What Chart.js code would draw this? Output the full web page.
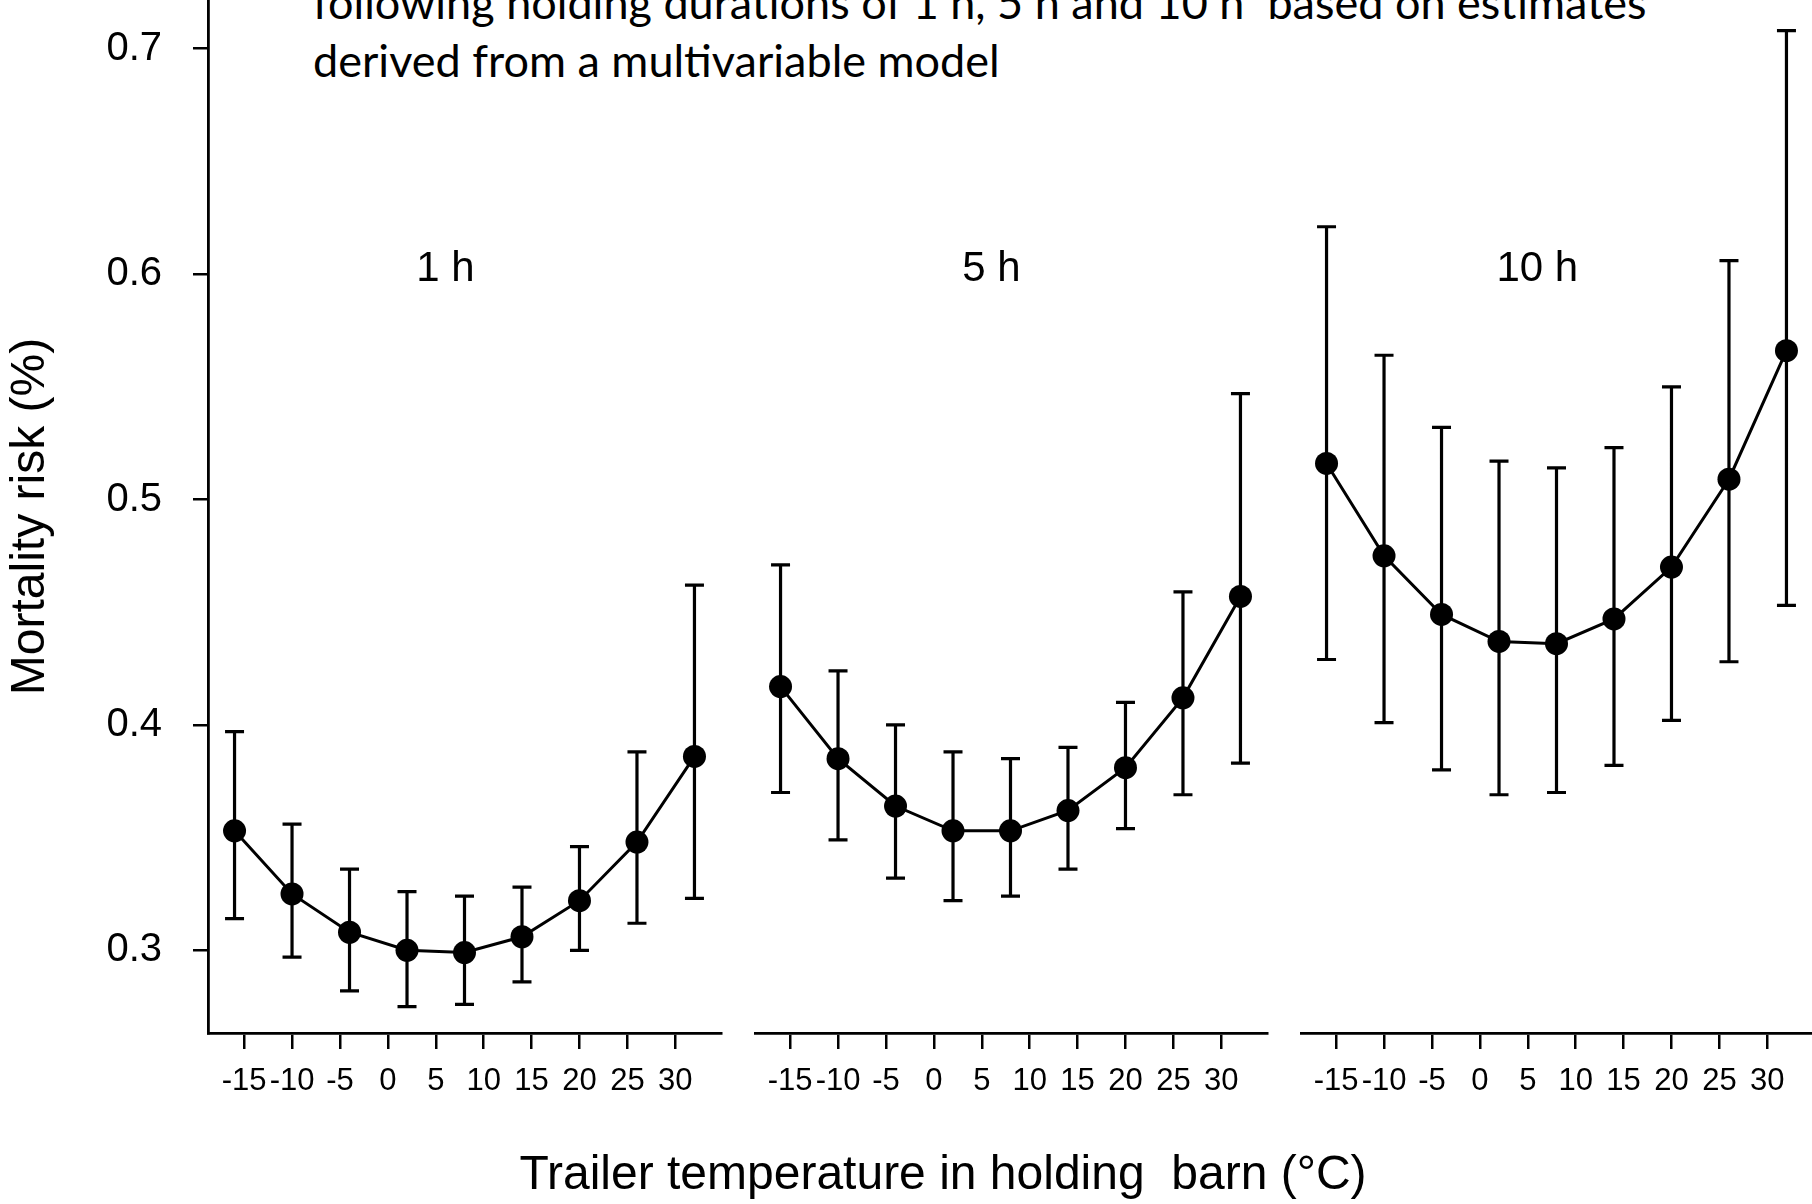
<!DOCTYPE html>
<html>
<head>
<meta charset="utf-8">
<script src="https://cdn.jsdelivr.net/npm/chart.js@4.4.1/dist/chart.umd.min.js"></script>
<style>
  html, body { margin: 0; padding: 0; background: #fff; overflow: hidden; }
  #wrap { position: relative; width: 1812px; height: 1204px; overflow: hidden; }
  canvas { position: absolute; top: 0; }
  .caption { position: absolute; left: 313px; top: -27px; font: 45px/58px Lato, sans-serif; color: #000; white-space: pre; }
  .xtitle { position: absolute; left: 943px; top: 1149px; transform: translateX(-50%); font: 48px/48px "Liberation Sans", Arial, sans-serif; color: #000; white-space: pre; }
</style>
</head>
<body>
<div id="wrap">
  <div class="caption">following holding durations of 1 h, 5 h and 10 h  based on estimates
derived from a multivariable model</div>
  <canvas id="p1" width="730" height="1204" style="left:0px"></canvas>
  <canvas id="p2" width="522" height="1204" style="left:754px"></canvas>
  <canvas id="p3" width="513" height="1204" style="left:1300px"></canvas>
  <div class="xtitle">Trailer temperature in holding  barn (°C)</div>
</div>
<script>
// temperatures (°C) at which the model was evaluated
const temps = [-16, -10, -4, 2, 8, 14, 20, 26, 32];
const xTicks = [-15, -10, -5, 0, 5, 10, 15, 20, 25, 30];
const yTicks = [0.3, 0.4, 0.5, 0.6, 0.7];
const panelLabels = ['1 h', '5 h', '10 h'];

// mortality risk (%) with lower / upper confidence limits
const est1h = [0.353, 0.325, 0.308, 0.300, 0.299, 0.306, 0.322, 0.348, 0.386];
const low1h = [0.314, 0.297, 0.282, 0.275, 0.276, 0.286, 0.300, 0.312, 0.323];
const up1h  = [0.397, 0.356, 0.336, 0.326, 0.324, 0.328, 0.346, 0.388, 0.462];

const est5h = [0.417, 0.385, 0.364, 0.353, 0.353, 0.362, 0.381, 0.412, 0.457];
const low5h = [0.370, 0.349, 0.332, 0.322, 0.324, 0.336, 0.354, 0.369, 0.383];
const up5h  = [0.471, 0.424, 0.400, 0.388, 0.385, 0.390, 0.410, 0.459, 0.547];

const est10h = [0.516, 0.475, 0.449, 0.437, 0.436, 0.447, 0.470, 0.509, 0.566];
const low10h = [0.429, 0.401, 0.380, 0.369, 0.370, 0.382, 0.402, 0.428, 0.453];
const up10h  = [0.621, 0.564, 0.532, 0.517, 0.514, 0.523, 0.550, 0.606, 0.708];

const FONT = 'Liberation Sans';

const errorBars = {
  id: 'errorBars',
  beforeDatasetsDraw(chart, args, opts) {
    const ctx = chart.ctx;
    const x = chart.scales.x, y = chart.scales.y;
    ctx.save();
    ctx.strokeStyle = '#000';
    ctx.lineWidth = 3.2;
    ctx.beginPath();
    opts.low.forEach((lo, k) => {
      const px = x.getPixelForValue(temps[k]);
      const pLo = y.getPixelForValue(lo);
      const pHi = y.getPixelForValue(opts.up[k]);
      ctx.moveTo(px, pLo); ctx.lineTo(px, pHi);
      ctx.moveTo(px - 9.5, pLo); ctx.lineTo(px + 9.5, pLo);
      ctx.moveTo(px - 9.5, pHi); ctx.lineTo(px + 9.5, pHi);
    });
    ctx.stroke();
    ctx.restore();
  }
};

const panelLabel = {
  id: 'panelLabel',
  afterDatasetsDraw(chart, args, opts) {
    const ctx = chart.ctx;
    ctx.save();
    ctx.fillStyle = '#000';
    ctx.font = '42px "' + FONT + '"';
    ctx.textAlign = 'center';
    ctx.textBaseline = 'middle';
    ctx.fillText(opts.text, chart.scales.x.getPixelForValue(opts.x), chart.scales.y.getPixelForValue(opts.y));
    ctx.restore();
  }
};

function makePanel(id, est, low, up, label, first) {
  const yScale = first ? {
    type: 'linear', min: 0.2633, max: 0.7216,
    afterBuildTicks: s => { s.ticks = yTicks.map(v => ({ value: v })); },
    afterFit: s => { s.width = 208; s.paddingTop = 0; s.paddingBottom = 0; },
    grid: { drawOnChartArea: false, tickLength: 15, color: '#000', lineWidth: 2.5 },
    border: { color: '#000', width: 2.8 },
    ticks: { color: '#000', font: { family: FONT, size: 40 }, padding: 31, callback: v => v.toFixed(1) },
    title: { display: true, text: 'Mortality risk (%)', color: '#000', font: { family: FONT, size: 48 }, padding: { top: 2, bottom: 0 } }
  } : { type: 'linear', min: 0.2633, max: 0.7216, display: false };

  new Chart(document.getElementById(id), {
    type: 'line',
    data: {
      datasets: [{
        data: temps.map((t, k) => ({ x: t, y: est[k] })),
        borderColor: '#000',
        borderWidth: 3,
        pointRadius: 11.5,
        pointBorderWidth: 0,
        pointBackgroundColor: '#000',
        tension: 0
      }]
    },
    options: {
      responsive: false,
      animation: false,
      layout: { autoPadding: false, padding: { left: 0, right: id === 'p3' ? 0 : 9, top: 0, bottom: 0 } },
      plugins: {
        legend: { display: false },
        tooltip: { enabled: false },
        errorBars: { low: low, up: up },
        panelLabel: { text: label, x: 6, y: 0.602 }
      },
      scales: {
        x: {
          type: 'linear', min: -18.77, max: 34.77,
          afterBuildTicks: s => { s.ticks = xTicks.map(v => ({ value: v })); },
          afterFit: s => { s.height = 171; s.paddingLeft = 0; s.paddingRight = 0; },
          grid: { drawOnChartArea: false, tickLength: 16, color: '#000', lineWidth: 2.5 },
          border: { color: '#000', width: 2.8 },
          ticks: { color: '#000', font: { family: FONT, size: 31 }, padding: 14, maxRotation: 0, autoSkip: false }
        },
        y: yScale
      }
    },
    plugins: [errorBars, panelLabel]
  });
}

makePanel('p1', est1h, low1h, up1h, panelLabels[0], true);
makePanel('p2', est5h, low5h, up5h, panelLabels[1], false);
makePanel('p3', est10h, low10h, up10h, panelLabels[2], false);
</script>
</body>
</html>
